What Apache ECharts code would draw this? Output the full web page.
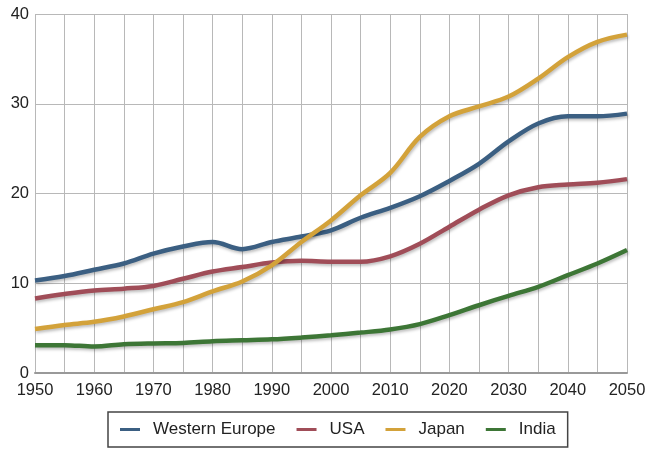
<!DOCTYPE html>
<html><head><meta charset="utf-8">
<script src="https://cdn.jsdelivr.net/npm/echarts@6/dist/echarts.min.js"></script>
<style>html,body{margin:0;padding:0;background:#fff}#c{width:654px;height:456px}</style>
</head><body><div id="c"></div>
<script>
const years = [1950,1955,1960,1965,1970,1975,1980,1985,1990,1995,2000,2005,2010,2015,2020,2025,2030,2035,2040,2045,2050];
const westernEurope = [10.3,10.8,11.5,12.2,13.3,14.1,14.6,13.8,14.6,15.2,15.9,17.3,18.4,19.7,21.4,23.3,25.8,27.8,28.6,28.6,28.9];
const usa = [8.3,8.8,9.2,9.4,9.7,10.5,11.3,11.8,12.3,12.5,12.4,12.4,13.0,14.4,16.3,18.2,19.8,20.7,21.0,21.2,21.6];
const japan = [4.9,5.35,5.7,6.3,7.1,7.9,9.1,10.2,12.0,14.6,17.0,19.8,22.3,26.3,28.6,29.7,30.8,32.8,35.2,36.9,37.7];
const india = [3.1,3.1,2.95,3.2,3.3,3.35,3.55,3.65,3.75,3.95,4.2,4.5,4.85,5.45,6.45,7.55,8.6,9.6,10.9,12.2,13.7];
const seriesNames = ['Western Europe','USA','Japan','India'];
const colors = ['#3b5f82','#a04d58','#d3a23a','#3d7636'];
const allData = [westernEurope, usa, japan, india];

const chart = echarts.init(document.getElementById('c'));
const font = 'Liberation Sans, Arial, sans-serif';
chart.setOption({
  animation:false,
  grid:{left:35,right:27,top:14,bottom:83,containLabel:false},
  xAxis:{type:'value',min:1950,max:2050,interval:10,
    axisLine:{show:true,lineStyle:{color:'#999',width:2}},
    axisTick:{show:false},
    axisLabel:{color:'#222',fontSize:16.5,fontFamily:font,margin:9,formatter:v=>String(v)},
    splitLine:{show:true,lineStyle:{color:'#b8b8b8',width:1}},
    minorTick:{show:false,splitNumber:2},
    minorSplitLine:{show:true,lineStyle:{color:'#b8b8b8',width:1}}
  },
  yAxis:{type:'value',min:0,max:40,interval:10,
    axisLine:{show:false},axisTick:{show:false},
    axisLabel:{color:'#222',fontSize:16.5,fontFamily:font,margin:6},
    splitLine:{show:true,lineStyle:{color:'#b8b8b8',width:1}}
  },
  legend:{bottom:9,left:108,itemWidth:20,itemHeight:3,itemGap:21,
    padding:[9,12,9,12],borderColor:'#444',borderWidth:1.5,
    icon:'rect',
    textStyle:{color:'#222',fontSize:17,fontFamily:font,padding:[0,0,0,8]},
    data:seriesNames},
  series: seriesNames.map((n,i)=>({
    name:n,type:'line',smooth:0.35,showSymbol:false,
    data: years.map((y,j)=>[y, allData[i][j]]),
    lineStyle:{color:colors[i],width:4.5,shadowColor:'rgba(0,0,0,0.25)',shadowBlur:3,shadowOffsetX:1,shadowOffsetY:2},
    itemStyle:{color:colors[i]}
  }))
});
</script></body></html>
